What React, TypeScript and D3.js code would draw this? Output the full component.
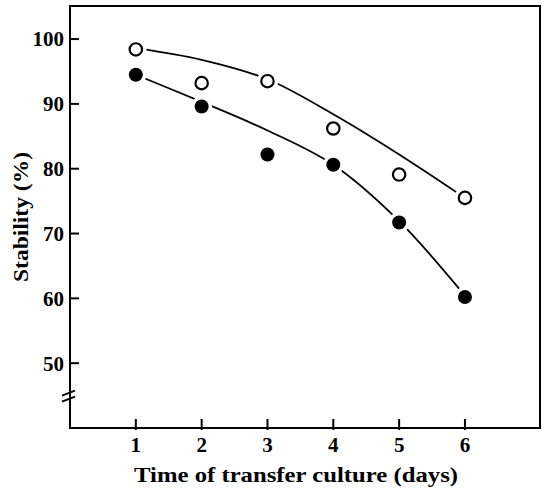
import React from "react";
import * as d3 from "d3";

const days = [1, 2, 3, 4, 5, 6];
const openValues = [98.4, 93.2, 93.5, 86.2, 79.1, 75.5];
const filledValues = [94.5, 89.6, 82.2, 80.6, 71.7, 60.2];
const openFit = [98.6, 96.8, 93.8, 88.4, 82.2, 75.5];
const filledFit = [94.5, 90.3, 85.9, 80.6, 71.9, 60.4];
const xTicks = [1, 2, 3, 4, 5, 6];
const yTicks = [50, 60, 70, 80, 90, 100];
const xLabel = "Time of transfer culture (days)";
const yLabel = "Stability (%)";

const W = 544;
const H = 490;
const FONT = "'Liberation Serif', 'Times New Roman', serif";

export default function App() {
  const x = d3.scaleLinear().domain([0, 7.14]).range([70, 540]);
  const y = d3.scaleLinear().domain([40, 105.1]).range([428, 6]);

  const line = d3
    .line<[number, number]>()
    .x((d) => x(d[0]))
    .y((d) => y(d[1]))
    .curve(d3.curveCatmullRom.alpha(0.5));

  const openPts = days.map((d, i) => [d, openFit[i]] as [number, number]);
  const filledPts = days.map((d, i) => [d, filledFit[i]] as [number, number]);

  const left = x(0);
  const right = x(7.14);
  const top = y(105.1);
  const bottom = y(40);
  const rOpen = 6.2;
  const rFilled = 7;

  const breakY = (y(50) + bottom) / 2 - 2;

  return (
    <svg
      width={W}
      height={H}
      style={{ position: "absolute", left: 0, top: 0, background: "#fff" }}
    >
      <rect x={0} y={0} width={W} height={H} fill="#fff" />
      {/* frame */}
      <path
        d={`M${left},${top} L${right},${top} L${right},${bottom} L${left},${bottom} Z`}
        fill="none"
        stroke="#000"
        strokeWidth={2}
      />
      {/* axis break */}
      <line x1={left - 8} y1={breakY + 2} x2={left + 5} y2={breakY - 3} stroke="#000" strokeWidth={2} />
      <line x1={left - 8} y1={breakY + 8} x2={left + 5} y2={breakY + 3} stroke="#000" strokeWidth={2} />
      {/* y ticks */}
      {yTicks.map((t) => (
        <g key={"y" + t}>
          <line x1={left} x2={left + 9} y1={y(t)} y2={y(t)} stroke="#000" strokeWidth={2} />
          <text
            x={left - 6}
            y={y(t)}
            dy="0.35em"
            textAnchor="end"
            fontFamily={FONT}
            fontWeight="bold"
            fontSize={21}
          >
            {t}
          </text>
        </g>
      ))}
      {/* x ticks */}
      {xTicks.map((t) => (
        <g key={"x" + t}>
          <line x1={x(t)} x2={x(t)} y1={bottom + 2} y2={bottom - 9} stroke="#000" strokeWidth={2} />
          <text
            x={x(t)}
            y={452}
            textAnchor="middle"
            fontFamily={FONT}
            fontWeight="bold"
            fontSize={21}
          >
            {t}
          </text>
        </g>
      ))}
      {/* curves */}
      <path d={line(openPts) || ""} fill="none" stroke="#000" strokeWidth={1.8} />
      <path d={line(filledPts) || ""} fill="none" stroke="#000" strokeWidth={1.8} />
      {/* halos */}
      {days.map((d, i) => (
        <circle key={"ho" + d} cx={x(d)} cy={y(openValues[i])} r={rOpen + 4.5} fill="#fff" />
      ))}
      {days.map((d, i) => (
        <circle key={"hf" + d} cx={x(d)} cy={y(filledValues[i])} r={rFilled + 3.5} fill="#fff" />
      ))}
      {/* markers */}
      {days.map((d, i) => (
        <circle
          key={"o" + d}
          cx={x(d)}
          cy={y(openValues[i])}
          r={rOpen}
          fill="#fff"
          stroke="#000"
          strokeWidth={2.2}
        />
      ))}
      {days.map((d, i) => (
        <circle key={"f" + d} cx={x(d)} cy={y(filledValues[i])} r={rFilled} fill="#000" />
      ))}
      {/* labels */}
      <text
        x={296}
        y={482}
        textAnchor="middle"
        fontFamily={FONT}
        fontWeight="bold"
        fontSize={21}
        textLength={324}
        lengthAdjust="spacingAndGlyphs"
      >
        {xLabel}
      </text>
      <text
        transform={`translate(28,217) rotate(-90)`}
        textAnchor="middle"
        fontFamily={FONT}
        fontWeight="bold"
        fontSize={21}
        textLength={130}
        lengthAdjust="spacingAndGlyphs"
      >
        {yLabel}
      </text>
    </svg>
  );
}
